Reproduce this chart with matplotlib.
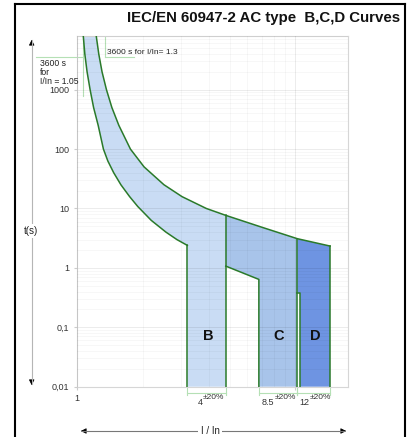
import numpy as np
import matplotlib
matplotlib.use("Agg")
import matplotlib.pyplot as plt
from matplotlib.lines import Line2D
from matplotlib.patches import FancyArrowPatch
from matplotlib.ticker import LogLocator, NullFormatter
import matplotlib.transforms as mtransforms

plt.rcParams['font.family'] = ['Liberation Sans', 'DejaVu Sans']

# lower (non-tripping) curve of the B band
low_I = [1.067, 1.086, 1.112, 1.148, 1.191, 1.250, 1.321, 1.384, 1.472, 1.589,
         1.742, 1.897, 2.188, 2.553, 2.864, 3.2]
low_t = [8510, 3980, 1995, 1000, 501, 251, 100, 63, 40, 25,
         15.8, 10.8, 6.3, 4.0, 3.0, 2.39]

# upper (tripping) curve, runs over B, C and D
up_I = [1.222, 1.258, 1.302, 1.364, 1.444, 1.554, 1.756, 2.028, 2.500, 3.027,
        3.908, 4.8, 7.12, 10.2, 14.4]
up_t = [8510, 3980, 1995, 1000, 501, 251, 100, 50.1, 25.1, 15.8,
        10, 7.65, 4.75, 3.1, 2.33]

# instantaneous zones (I/In limits) and magnetic-trip corners
b_lo, b_hi = 3.2, 4.8
c_lo, c_hi = 6.8, 10.2
d_lo, d_hi = 10.5, 14.4
c_step = [(6.8, 0.64), (4.8, 1.07)]
d_step_t = 0.38

t_min, t_max = 0.01, 8000
x_max = 17.4

ytick_vals = [0.01, 0.1, 1, 10, 100, 1000]
ytick_labels = ['0,01', '0,1', '1', '10', '100', '1000']

brackets = [(b_lo, b_hi, '4'), (c_lo, c_hi, '8.5'), (c_hi, d_hi, '12')]
zone_names = ['B', 'C', 'D']
zone_label_x = [3.98, 8.4, 12.3]
zone_label_t = 0.071

col_b = '#c9dcf4'
col_c = '#a8c4ea'
col_d = '#6e94e2'
edge = '#2a7a2a'
ann = '#b5e0b5'

fig = plt.figure(figsize=(4.09, 4.37), dpi=100)
W, H = 409, 437


def fx(px):
    return px / W


def fy(py):
    return 1 - py / H


ax = fig.add_axes([fx(77), fy(386.7), 271 / W, 350.7 / H])
ax.set_xscale('log')
ax.set_yscale('log')
ax.set_xlim(1, x_max)
ax.set_ylim(t_min, t_max)

up_I = np.array(up_I)
up_t = np.array(up_t)

# B band
mb = up_I <= b_hi
bx = list(low_I) + [b_lo, b_hi] + list(up_I[mb][::-1])
by = list(low_t) + [t_min, t_min] + list(up_t[mb][::-1])
ax.fill(bx, by, color=col_b, lw=0, zorder=1)

# C zone
mc = (up_I >= b_hi) & (up_I <= c_hi)
cx = list(up_I[mc]) + [c_hi, c_lo] + [p[0] for p in c_step]
cy = list(up_t[mc]) + [t_min, t_min] + [p[1] for p in c_step]
ax.fill(cx, cy, color=col_c, lw=0, zorder=1)

# D zone
md = up_I >= c_hi
dx = list(up_I[md]) + [d_hi, d_lo, d_lo, c_hi]
dy = list(up_t[md]) + [t_min, t_min, d_step_t, d_step_t]
ax.fill(dx, dy, color=col_d, lw=0, zorder=1)

# grid on top of the fills, faint
ax.set_axisbelow(False)
ax.xaxis.set_minor_locator(LogLocator(base=10, subs=np.arange(2, 10)))
ax.yaxis.set_minor_locator(LogLocator(base=10, subs=np.arange(2, 10), numticks=20))
ax.xaxis.set_minor_formatter(NullFormatter())
ax.yaxis.set_minor_formatter(NullFormatter())
ax.grid(True, which='major', color='k', alpha=0.09, lw=0.6)
ax.grid(True, which='minor', color='k', alpha=0.045, lw=0.5)

# green outlines
lw = 1.1
kw = dict(color=edge, lw=lw, zorder=3, solid_joinstyle='round')
ax.plot(low_I, low_t, **kw)
ax.plot([b_lo, b_lo], [low_t[-1], t_min], **kw)
ax.plot(up_I, up_t, **kw)
ax.plot([b_hi, b_hi], [up_t[mb][-1], t_min], **kw)
ax.plot([b_hi, c_step[0][0], c_lo], [c_step[1][1], c_step[0][1], t_min], **kw)
ax.plot([c_hi, c_hi], [up_t[md][0], t_min], **kw)
ax.plot([c_hi, d_lo, d_lo], [d_step_t, d_step_t, t_min], **kw)
ax.plot([d_hi, d_hi], [up_t[-1], t_min], **kw)

for name, xl in zip(zone_names, zone_label_x):
    ax.text(xl, zone_label_t, name, ha='center', va='center', fontsize=10.5,
            fontweight='bold', color='#111', zorder=4)

# ticks
ax.set_yticks(ytick_vals)
ax.set_yticklabels(ytick_labels)
ax.set_xticks([1, 10])
ax.set_xticklabels(['1', ''])
ax.tick_params(which='major', length=2.5, color='#cccccc', labelsize=6.5,
               labelcolor='#333333', pad=3)
ax.tick_params(which='minor', length=0)
for s in ax.spines.values():
    s.set_color('#d6d6d6')
    s.set_linewidth(0.8)

# 3600 s annotations
xl_left = 10 ** (np.log10(x_max) * (36 - 77) / 271)
ax.plot([xl_left, 1.06], [3600, 3600], color=ann, lw=0.8, clip_on=False, zorder=2)
ax.plot([1.06, 1.06], [770, t_max], color=ann, lw=0.8, clip_on=False, zorder=2)
ax.plot([1.35, 1.35], [3600, t_max], color=ann, lw=0.8, zorder=2)
ax.plot([1.35, 1.82], [3600, 3600], color=ann, lw=0.8, zorder=2)
fig.text(fx(40), fy(58.5), '3600 s\nfor\nI/In = 1.05', fontsize=6.2, va='top',
         ha='left', linespacing=1.02, color='#222')
fig.text(fx(107), fy(52), '3600 s for I/In= 1.3', fontsize=6, va='center',
         ha='left', color='#222')

# brackets under the zones
trans = mtransforms.blended_transform_factory(ax.transData, ax.transAxes)
yb = -(393.3 - 386.7) / 350.7
for lo, hi, lab in brackets:
    for v in (lo, hi):
        ax.plot([v, v], [0, -0.024], color=ann, lw=0.8, transform=trans, clip_on=False)
    ax.plot([lo, hi], [yb, yb], color=ann, lw=0.8, transform=trans, clip_on=False)
    mid = np.sqrt(lo * hi) * 0.96
    ax.annotate(lab, xy=(mid, -0.046), xycoords=trans, xytext=(0, 0),
                textcoords='offset points', ha='right', va='center',
                fontsize=6.5, color='#333', annotation_clip=False)
    ax.annotate('±20%', xy=(mid, -0.032), xycoords=trans, xytext=(0.3, 0),
                textcoords='offset points', ha='left', va='center',
                fontsize=6, color='#333', annotation_clip=False)

# outer frame
for xs, ys in [([15, 15], [4, 437]), ([405, 405], [4, 437]), ([15, 405], [4, 4])]:
    fig.add_artist(Line2D([fx(v) for v in xs], [fy(v) for v in ys],
                          color='k', lw=1.5))

# title
fig.text(fx(400), fy(18), 'IEC/EN 60947-2 AC type  B,C,D Curves', ha='right',
         va='center', fontsize=10.8, fontweight='bold', color='#111')

# vertical t(s) arrow
fig.add_artist(Line2D([fx(31.7)] * 2, [fy(40), fy(384)], color='#b5b5b5', lw=0.8))
for tip, tail in [(37, 46), (388, 379)]:
    fig.add_artist(FancyArrowPatch(
        (fx(31.7), fy(tail)), (fx(31.7), fy(tip)), transform=fig.transFigure,
        arrowstyle='-|>', mutation_scale=8, color='k', lw=0.6))
fig.text(fx(31), fy(231), 't(s)', ha='center', va='center', fontsize=7,
         color='#222', bbox=dict(facecolor='white', edgecolor='none', pad=1.5))

# horizontal I/In arrow
fig.add_artist(Line2D([fx(82), fx(344)], [fy(431)] * 2, color='#777777', lw=0.8))
for tip, tail in [(78, 88), (349, 339)]:
    fig.add_artist(FancyArrowPatch(
        (fx(tail), fy(431)), (fx(tip), fy(431)), transform=fig.transFigure,
        arrowstyle='-|>', mutation_scale=8, color='k', lw=0.6))
fig.text(fx(210), fy(431), 'I / In', ha='center', va='center', fontsize=7,
         color='#222', bbox=dict(facecolor='white', edgecolor='none', pad=2))

fig.savefig('out.png', dpi=100)
